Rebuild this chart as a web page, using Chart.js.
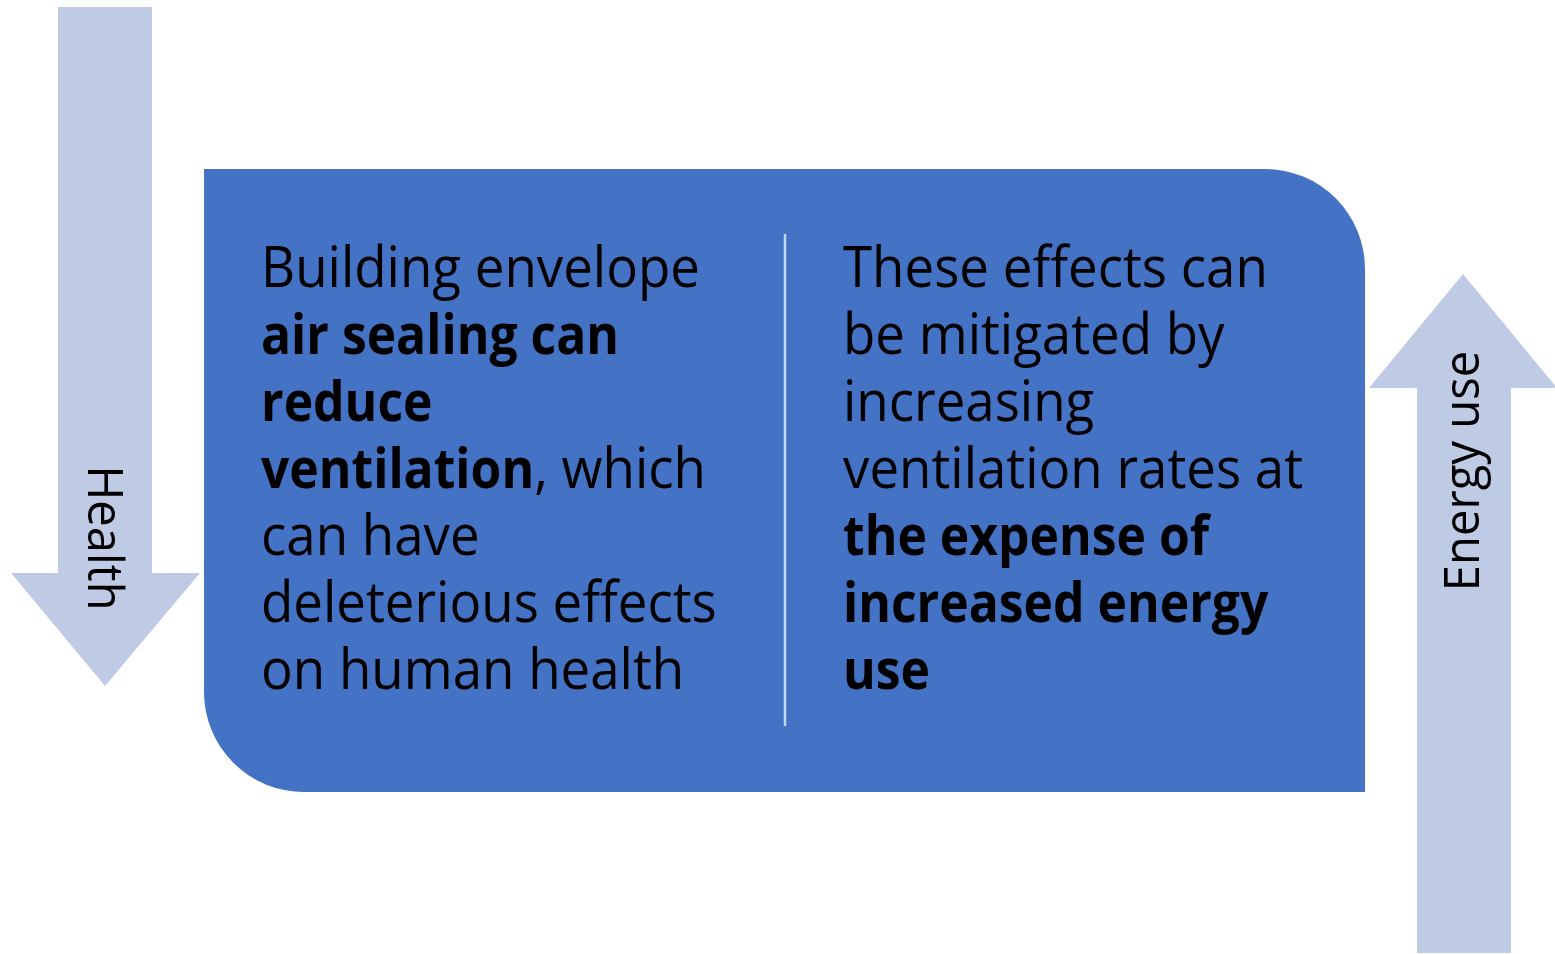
<!DOCTYPE html>
<html>
<head>
<meta charset="utf-8">
<script src="https://cdn.jsdelivr.net/npm/chart.js@4/dist/chart.umd.min.js"></script>
<style>
  html, body { margin: 0; padding: 0; background: #fff; }
  #wrap { width: 1555px; height: 954px; position: relative; }
</style>
</head>
<body>
<div id="wrap"><canvas id="diagram"></canvas></div>
<script>
// text of the two columns, each line is a list of [text, bold] pieces
const leftLines = [
  [["Building envelope", false]],
  [["air sealing can", true]],
  [["reduce", true]],
  [["ventilation", true], [", which", false]],
  [["can have", false]],
  [["deleterious effects", false]],
  [["on human health", false]]
];
const rightLines = [
  [["These effects can", false]],
  [["be mitigated by", false]],
  [["increasing", false]],
  [["ventilation rates at", false]],
  [["the expense of", true]],
  [["increased energy", true]],
  [["use", true]]
];
const arrowLabels = ["Health", "Energy use"];

// layout, in the same units as the (hidden) scales
const W = 1555, H = 954;
const downArrow = [[58, 7], [152, 7], [152, 573], [200, 573], [105, 686], [11, 573], [58, 573]];
const upArrow = [[1417, 953], [1511, 953], [1511, 388], [1557, 388], [1463, 274], [1369, 388], [1417, 388]];
const box = { x0: 204, y0: 169, x1: 1365, y1: 792, r: 100 };
const divider = { x: 785, y0: 234, y1: 726 };
const colX = [261, 843];
const firstBaseline = 287, lineStep = 67;

const boxColor = "#4472C4";
const arrowColor = "#BFCAE4";
const dividerColor = "#C9D3EC";
const fontFamily = "'Open Sans', 'DejaVu Sans', sans-serif";

// horizontal squeeze so Open Sans takes the width of the original face
let squeeze = 1, squeezeBold = 1;

function poly(ctx, xs, ys, pts) {
  ctx.beginPath();
  pts.forEach(([x, y], i) => {
    if (i === 0) ctx.moveTo(xs.getPixelForValue(x), ys.getPixelForValue(y));
    else ctx.lineTo(xs.getPixelForValue(x), ys.getPixelForValue(y));
  });
  ctx.closePath();
  ctx.fillStyle = arrowColor;
  ctx.fill();
}

function drawLines(ctx, xs, ys, lines, x) {
  lines.forEach((pieces, i) => {
    ctx.save();
    ctx.translate(xs.getPixelForValue(x), ys.getPixelForValue(firstBaseline + i * lineStep));
    let cx = 0;
    pieces.forEach(([txt, bold]) => {
      const k = bold ? squeezeBold : squeeze;
      ctx.font = (bold ? "bold " : "") + "56px " + fontFamily;
      ctx.save();
      ctx.translate(cx, 0);
      ctx.scale(k, 1);
      ctx.fillText(txt, 0, 0);
      ctx.restore();
      cx += ctx.measureText(txt).width * k;
    });
    ctx.restore();
  });
}

function rotatedLabel(ctx, txt, px, py, angle) {
  ctx.save();
  ctx.translate(px, py);
  ctx.rotate(angle);
  ctx.scale(squeeze, 1);
  ctx.font = "50px " + fontFamily;
  ctx.textAlign = "center";
  ctx.fillText(txt, 0, 0);
  ctx.restore();
}

const diagramPlugin = {
  id: "diagram",
  afterDraw(chart) {
    const ctx = chart.ctx;
    const xs = chart.scales.x, ys = chart.scales.y;
    const px = v => xs.getPixelForValue(v), py = v => ys.getPixelForValue(v);

    ctx.save();
    ctx.font = "56px " + fontFamily;
    squeeze = 439 / ctx.measureText("Building envelope").width;
    ctx.font = "bold 56px " + fontFamily;
    squeezeBold = 358 / ctx.measureText("air sealing can").width;

    // arrows
    poly(ctx, xs, ys, downArrow);
    poly(ctx, xs, ys, upArrow);

    // main box: top-right and bottom-left corners rounded
    const r = px(box.x0 + box.r) - px(box.x0);
    ctx.beginPath();
    ctx.moveTo(px(box.x0), py(box.y0));
    ctx.arcTo(px(box.x1), py(box.y0), px(box.x1), py(box.y1), r);
    ctx.lineTo(px(box.x1), py(box.y1));
    ctx.arcTo(px(box.x0), py(box.y1), px(box.x0), py(box.y0), r);
    ctx.closePath();
    ctx.fillStyle = boxColor;
    ctx.fill();

    // divider
    ctx.beginPath();
    ctx.moveTo(px(divider.x), py(divider.y0));
    ctx.lineTo(px(divider.x), py(divider.y1));
    ctx.strokeStyle = dividerColor;
    ctx.lineWidth = 2.5;
    ctx.stroke();

    // text
    ctx.fillStyle = "#000";
    ctx.textBaseline = "alphabetic";
    ctx.textAlign = "left";
    drawLines(ctx, xs, ys, leftLines, colX[0]);
    drawLines(ctx, xs, ys, rightLines, colX[1]);

    rotatedLabel(ctx, arrowLabels[0], px(88), py(538), Math.PI / 2);
    rotatedLabel(ctx, arrowLabels[1], px(1479), py(471), -Math.PI / 2);
    ctx.restore();
  }
};

new Chart(document.getElementById("diagram"), {
  type: "scatter",
  data: { datasets: [{ data: [] }] },
  options: {
    responsive: true,
    maintainAspectRatio: false,
    animation: false,
    layout: { padding: 0 },
    plugins: { legend: { display: false }, tooltip: { enabled: false } },
    scales: {
      x: { type: "linear", min: 0, max: W, display: false },
      y: { type: "linear", min: 0, max: H, reverse: true, display: false }
    }
  },
  plugins: [diagramPlugin]
});
</script>
</body>
</html>
